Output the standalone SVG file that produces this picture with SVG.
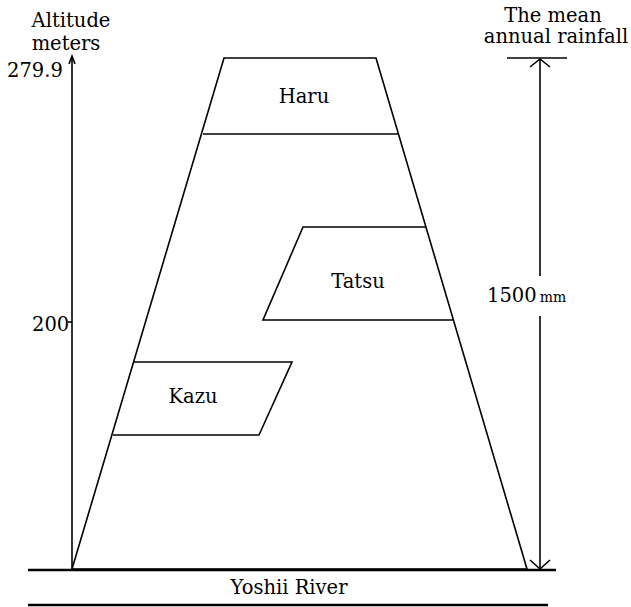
<svg xmlns="http://www.w3.org/2000/svg" width="631" height="607" viewBox="0 0 631 607">
<style>
.ln{stroke:#000;stroke-width:1.6;fill:none}
.thk{stroke:#000;stroke-width:2.4;fill:none}
text{font-family:"DejaVu Serif","Liberation Serif",serif;font-size:19.5px;fill:#000}
.sm{font-size:14px}
</style>
<rect width="631" height="607" fill="#fff"/>
<g id="mountain">
<polygon class="ln" points="224,58 376,58 527,569 72,569"/>
</g>
<g id="haru">
<line class="ln" x1="203" y1="134" x2="398" y2="134"/>
<text x="304" y="103" text-anchor="middle">Haru</text>
</g>
<g id="tatsu">
<polyline class="ln" points="426,227 303,227 263,320 453,320"/>
<text x="358" y="288" text-anchor="middle">Tatsu</text>
</g>
<g id="kazu">
<polyline class="ln" points="134,362 292,362 259,435 113,435"/>
<text x="193" y="403" text-anchor="middle">Kazu</text>
</g>
<g id="connectors">
<line class="ln" x1="72" y1="57" x2="72" y2="569"/>
<path class="ln" d="M69,64 L72,56 L75,64"/>
<line class="ln" x1="68" y1="322" x2="72" y2="322"/>
<line class="ln" x1="540" y1="59" x2="540" y2="276"/>
<line class="ln" x1="540" y1="316" x2="540" y2="569"/>
<line class="ln" x1="507" y1="58" x2="567" y2="58"/>
<path class="ln" d="M530,67 L540,59 L550,67"/>
<path class="ln" d="M530,560 L540,569 L550,560"/>
<line class="thk" x1="28" y1="570" x2="556" y2="570"/>
<line class="thk" x1="28" y1="605" x2="548" y2="605"/>
</g>
<g id="labels">
<text x="71" y="27" text-anchor="middle">Altitude</text>
<text x="66" y="50" text-anchor="middle">meters</text>
<text x="7" y="77">279.9</text>
<text x="32" y="331">200</text>
<text x="553" y="22" text-anchor="middle">The mean</text>
<text x="556" y="43" text-anchor="middle">annual rainfall</text>
<text x="487" y="302">1500<tspan class="sm" dx="3">mm</tspan></text>
<text x="289" y="594" text-anchor="middle">Yoshii River</text>
</g>
</svg>
